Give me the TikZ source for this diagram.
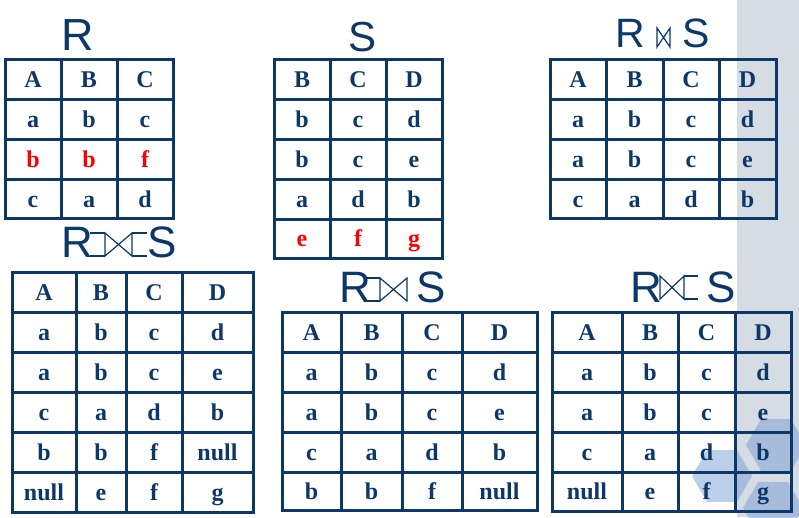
\documentclass[tikz,border=0pt]{standalone}
\usepackage{fontspec}
\setmainfont{Liberation Serif}
\newfontfamily\titlefont{Liberation Sans}
\definecolor{navy}{RGB}{12,55,105}
\definecolor{bandgray}{RGB}{214,220,228}
\definecolor{hexblue}{RGB}{115,155,208}
\tikzset{
tabline/.style={ % Sets the look of the table rules
draw=navy,
line width=3pt},
cell/.style={ % Text of one table cell
anchor=base,
yshift=-8pt,
inner sep=0pt,
font=\fontsize{24}{28}\selectfont\bfseries},
title/.style={ % Relation names above the tables
anchor=base,
inner sep=0pt,
text=navy,
font=\titlefont\fontsize{44}{48}\selectfont},
joinline/.style={draw=navy, line width=1.2pt},
hex/.style={fill=hexblue, fill opacity=0.48}}
% join sign: x, top, width, height, left arm, right arm
\newcommand{\joinsym}[6]{
\draw[joinline] (#1,#2) -- ++(#3,#4) -- ++(0,-#4) -- ++(-#3,#4) -- cycle;
\draw[joinline] (#1,#2) -- ++(-#5,0) (#1,#2+#4) -- ++(-#5,0);
\draw[joinline] (#1+#3,#2) -- ++(#6,0) (#1+#3,#2+#4) -- ++(#6,0);}
\begin{document}
\begin{tikzpicture}[x=1pt, y=-1pt]
\useasboundingbox (0,0) rectangle (799,517);
\fill[bandgray] (737,0) rectangle (799,517);
\foreach \cx/\cy in {722/476, 776/445, 773/508}
\fill[hex] (\cx,\cy) +(0:30) -- +(60:30) -- +(120:30) -- +(180:30) -- +(240:30) -- +(300:30) -- cycle;

% R
\node[title, font=\titlefont\fontsize{45}{48}\selectfont] (rname) at (78,50) {R};
\draw[tabline] (5,59) rectangle (173,218);
\foreach \x in {61,117} \draw[tabline] (\x,59) -- (\x,218);
\foreach \y in {99,139,179} \draw[tabline] (5,\y) -- (173,\y);
\foreach \y/\a/\b/\c/\clr [count=\i] in {79/A/B/C/navy, 119/a/b/c/navy, 159/b/b/f/red, 199/c/a/d/navy}{
\node[cell, text=\clr] (r-\i-1) at (33,\y) {\a};
\node[cell, text=\clr] (r-\i-2) at (89,\y) {\b};
\node[cell, text=\clr] (r-\i-3) at (145,\y) {\c};}

% S
\node[title, font=\titlefont\fontsize{42}{46}\selectfont] (sname) at (362,51) {S};
\draw[tabline] (274,59) rectangle (442,258);
\foreach \x in {330,386} \draw[tabline] (\x,59) -- (\x,258);
\foreach \y in {99,139,179,219} \draw[tabline] (274,\y) -- (442,\y);
\foreach \y/\a/\b/\c/\clr [count=\i] in {79/B/C/D/navy, 119/b/c/d/navy, 159/b/c/e/navy, 199/a/d/b/navy, 238/e/f/g/red}{
\node[cell, text=\clr] (s-\i-1) at (302,\y) {\a};
\node[cell, text=\clr] (s-\i-2) at (358,\y) {\b};
\node[cell, text=\clr] (s-\i-3) at (414,\y) {\c};}

% natural join
\node[title, font=\titlefont\fontsize{41}{44}\selectfont] (njr) at (630,47) {R};
\node[title, font=\titlefont\fontsize{41}{44}\selectfont] (njs) at (696,47) {S};
\joinsym{657}{28}{13}{19}{0}{0}
\draw[tabline] (550,59) rectangle (776,218);
\foreach \x in {606,663,719} \draw[tabline] (\x,59) -- (\x,218);
\foreach \y in {99,139,179} \draw[tabline] (550,\y) -- (776,\y);
\foreach \y/\a/\b/\c/\d [count=\i] in {79/A/B/C/D, 119/a/b/c/d, 159/a/b/c/e, 199/c/a/d/b}{
\node[cell, text=navy] (nj-\i-1) at (578,\y) {\a};
\node[cell, text=navy] (nj-\i-2) at (634.5,\y) {\b};
\node[cell, text=navy] (nj-\i-3) at (691,\y) {\c};
\node[cell, text=navy] (nj-\i-4) at (747.5,\y) {\d};}

% full outer join
\node[title] (fjr) at (77,257) {R};
\node[title] (fjs) at (162,257) {S};
\joinsym{105}{233}{27}{23}{15}{15}
\draw[tabline] (12,272) rectangle (253,512);
\foreach \x in {76,126,182} \draw[tabline] (\x,272) -- (\x,512);
\foreach \y in {312,352,392,432,472} \draw[tabline] (12,\y) -- (253,\y);
\foreach \y/\a/\b/\c/\d [count=\i] in {292/A/B/C/D, 332/a/b/c/d, 372/a/b/c/e, 412/c/a/d/b, 452/b/b/f/null, 492/null/e/f/g}{
\node[cell, text=navy] (fj-\i-1) at (44,\y) {\a};
\node[cell, text=navy] (fj-\i-2) at (101,\y) {\b};
\node[cell, text=navy] (fj-\i-3) at (154,\y) {\c};
\node[cell, text=navy] (fj-\i-4) at (217.5,\y) {\d};}

% left outer join
\node[title] (ljr) at (355,302) {R};
\node[title] (ljs) at (431,302) {S};
\joinsym{380}{278}{27}{23}{13}{0}
\draw[tabline] (282,312) rectangle (537,510);
\foreach \x in {341,402,462} \draw[tabline] (\x,312) -- (\x,510);
\foreach \y in {352,392,432,472} \draw[tabline] (282,\y) -- (537,\y);
\foreach \y/\a/\b/\c/\d [count=\i] in {332/A/B/C/D, 372/a/b/c/d, 412/a/b/c/e, 452/c/a/d/b, 491/b/b/f/null}{
\node[cell, text=navy] (lj-\i-1) at (311.5,\y) {\a};
\node[cell, text=navy] (lj-\i-2) at (371.5,\y) {\b};
\node[cell, text=navy] (lj-\i-3) at (432,\y) {\c};
\node[cell, text=navy] (lj-\i-4) at (499.5,\y) {\d};}

% right outer join
\node[title] (rjr) at (646,302) {R};
\node[title] (rjs) at (721,302) {S};
\joinsym{660}{276}{24}{23}{0}{14}
\draw[tabline] (552,312) rectangle (791,511);
\foreach \x in {622,678,735} \draw[tabline] (\x,312) -- (\x,511);
\foreach \y in {352,392,432,472} \draw[tabline] (552,\y) -- (791,\y);
\foreach \y/\a/\b/\c/\d [count=\i] in {332/A/B/C/D, 372/a/b/c/d, 412/a/b/c/e, 452/c/a/d/b, 491.5/null/e/f/g}{
\node[cell, text=navy] (rj-\i-1) at (587,\y) {\a};
\node[cell, text=navy] (rj-\i-2) at (650,\y) {\b};
\node[cell, text=navy] (rj-\i-3) at (706.5,\y) {\c};
\node[cell, text=navy] (rj-\i-4) at (763,\y) {\d};}
\end{tikzpicture}
\end{document}
